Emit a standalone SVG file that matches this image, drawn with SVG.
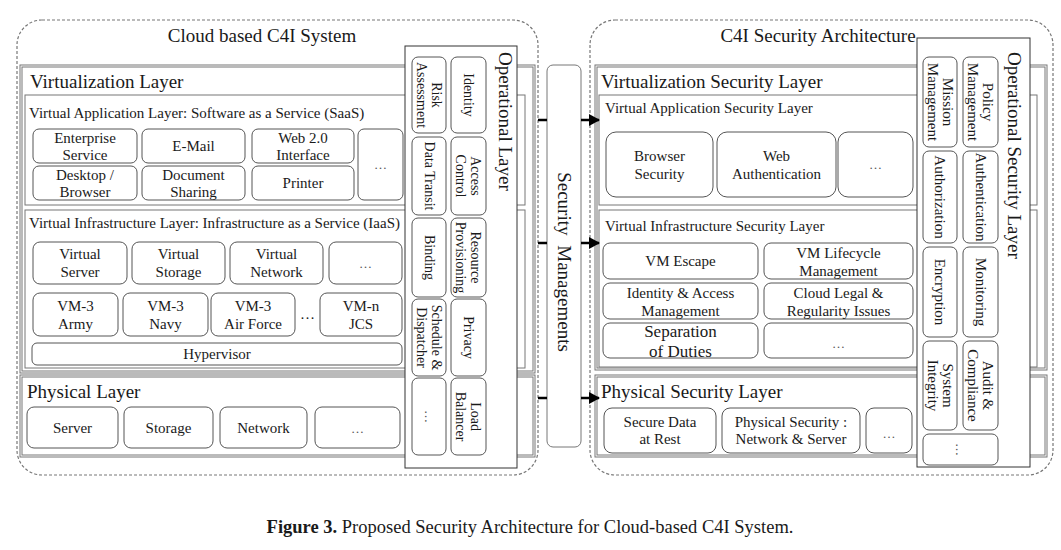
<svg xmlns="http://www.w3.org/2000/svg" width="1061" height="550" viewBox="0 0 1061 550">
<style>
text{font-family:"Liberation Serif","Times New Roman",serif;fill:#1a1a1a}
.t19{font-size:19px}
.t15{font-size:15px}
.t14{font-size:14px}
.t17{font-size:17px}
.c{text-anchor:middle;dominant-baseline:central}
.s{dominant-baseline:central}
.dash{fill:none;stroke:#777;stroke-width:1.2;stroke-dasharray:3 2}
.lay{fill:none;stroke:#777;stroke-width:1}
.box{fill:#fff;stroke:#555;stroke-width:1}
.op{fill:#fff;stroke:#333;stroke-width:1}
.sm{fill:#fff;stroke:#777;stroke-width:1}
.dots{font-size:13px;fill:#555}
.arr{stroke:#000;stroke-width:2.5;fill:none}
</style>
<defs>
<marker id="ah" markerWidth="11" markerHeight="12" refX="10" refY="6" orient="auto" markerUnits="userSpaceOnUse">
<path d="M0,0 L11,6 L0,12 z" fill="#000"/>
</marker>
</defs>
<rect width="1061" height="550" fill="#fff"/>

<g id="cloud-c4i-system">
<rect class="dash" x="17" y="20" width="521" height="455" rx="25"/>
<text class="t19" x="262" y="42" text-anchor="middle">Cloud based C4I System</text>
</g>

<g id="virtualization-layer">
<rect class="lay" x="20" y="65" width="515" height="308"/>
<rect class="lay" x="22" y="67" width="511" height="304"/>
<text class="t19" x="30" y="88">Virtualization Layer</text>
</g>

<g id="saas-layer">
<rect class="lay" x="25" y="95" width="500" height="110"/>
<text class="t15" x="29" y="118">Virtual Application Layer: Software as a Service (SaaS)</text>
<rect class="box" x="33" y="129" width="104" height="34" rx="6"/>
<text class="t15 c" x="85" y="137.5">Enterprise</text><text class="t15 c" x="85" y="154.5">Service</text>
<rect class="box" x="142" y="129" width="103" height="34" rx="6"/>
<text class="t15 c" x="193.5" y="146">E-Mail</text>
<rect class="box" x="252" y="129" width="102" height="34" rx="6"/>
<text class="t15 c" x="303" y="137.5">Web 2.0</text><text class="t15 c" x="303" y="154.5">Interface</text>
<rect class="box" x="358" y="129" width="45" height="71" rx="6"/>
<text class="dots c" x="380.5" y="164.5">…</text>
<rect class="box" x="33" y="166" width="104" height="34" rx="6"/>
<text class="t15 c" x="85" y="174.5">Desktop /</text><text class="t15 c" x="85" y="191.5">Browser</text>
<rect class="box" x="142" y="166" width="103" height="34" rx="6"/>
<text class="t15 c" x="193.5" y="174.5">Document</text><text class="t15 c" x="193.5" y="191.5">Sharing</text>
<rect class="box" x="252" y="166" width="102" height="34" rx="6"/>
<text class="t15 c" x="303" y="183">Printer</text>
</g>

<g id="iaas-layer">
<rect class="lay" x="25" y="210" width="500" height="158"/>
<text class="t15" x="29" y="228">Virtual Infrastructure Layer: Infrastructure as a Service (IaaS)</text>
<rect class="box" x="33" y="242" width="94" height="42" rx="7"/>
<text class="t15 c" x="80" y="254">Virtual</text><text class="t15 c" x="80" y="272">Server</text>
<rect class="box" x="132" y="242" width="93" height="42" rx="7"/>
<text class="t15 c" x="178.5" y="254">Virtual</text><text class="t15 c" x="178.5" y="272">Storage</text>
<rect class="box" x="230" y="242" width="93" height="42" rx="7"/>
<text class="t15 c" x="276.5" y="254">Virtual</text><text class="t15 c" x="276.5" y="272">Network</text>
<rect class="box" x="329" y="242" width="73" height="42" rx="7"/>
<text class="dots c" x="365.5" y="263">…</text>
<rect class="box" x="33" y="293" width="85" height="43" rx="7"/>
<text class="t15 c" x="75.5" y="305.5">VM-3</text><text class="t15 c" x="75.5" y="323.5">Army</text>
<rect class="box" x="123" y="293" width="85" height="43" rx="7"/>
<text class="t15 c" x="165.5" y="305.5">VM-3</text><text class="t15 c" x="165.5" y="323.5">Navy</text>
<rect class="box" x="211" y="293" width="84" height="43" rx="7"/>
<text class="t15 c" x="253" y="305.5">VM-3</text><text class="t15 c" x="253" y="323.5">Air Force</text>
<text class="t15 c" x="307.5" y="314">…</text>
<rect class="box" x="320" y="293" width="82" height="43" rx="7"/>
<text class="t15 c" x="361" y="305.5">VM-n</text><text class="t15 c" x="361" y="323.5">JCS</text>
<rect class="box" x="32" y="343" width="370" height="22" rx="5"/>
<text class="t15 c" x="217" y="354">Hypervisor</text>
</g>

<g id="physical-layer">
<rect class="lay" x="20" y="375" width="515" height="82"/>
<rect class="lay" x="22" y="377" width="511" height="78"/>
<text class="t19" x="27" y="398">Physical Layer</text>
<rect class="box" x="27" y="407" width="91" height="41" rx="7"/>
<text class="t15 c" x="72.5" y="428">Server</text>
<rect class="box" x="124" y="407" width="89" height="41" rx="7"/>
<text class="t15 c" x="168.5" y="428">Storage</text>
<rect class="box" x="220" y="407" width="87" height="41" rx="7"/>
<text class="t15 c" x="263.5" y="428">Network</text>
<rect class="box" x="315" y="407" width="85" height="41" rx="7"/>
<text class="dots c" x="357.5" y="428">…</text>
</g>

<g id="operational-layer">
<rect class="op" x="405" y="46" width="112" height="422"/>
<text class="t19 s" transform="translate(505,52) rotate(90)">Operational Layer</text>
<rect class="box" x="412" y="57" width="34" height="76" rx="6"/>
<text class="t14 c" transform="translate(429,95) rotate(90)"><tspan x="0" y="-7.5">Risk</tspan><tspan x="0" y="7.5">Assessment</tspan></text>
<rect class="box" x="412" y="137" width="34" height="78" rx="6"/>
<text class="t14 c" transform="translate(429,176) rotate(90)">Data Transit</text>
<rect class="box" x="412" y="218" width="34" height="79" rx="6"/>
<text class="t14 c" transform="translate(429,257.5) rotate(90)">Binding</text>
<rect class="box" x="412" y="299" width="34" height="77" rx="6"/>
<text class="t14 c" transform="translate(429,337.5) rotate(90)"><tspan x="0" y="-7.5">Schedule &amp;</tspan><tspan x="0" y="7.5">Dispatcher</tspan></text>
<rect class="box" x="412" y="378" width="34" height="77" rx="6"/>
<text class="dots c" transform="translate(429,416.5) rotate(90)">…</text>
<rect class="box" x="451" y="57" width="35" height="76" rx="6"/>
<text class="t14 c" transform="translate(468.5,95) rotate(90)">Identity</text>
<rect class="box" x="451" y="137" width="35" height="78" rx="6"/>
<text class="t14 c" transform="translate(468.5,176) rotate(90)"><tspan x="0" y="-7.5">Access</tspan><tspan x="0" y="7.5">Control</tspan></text>
<rect class="box" x="451" y="218" width="35" height="79" rx="6"/>
<text class="t14 c" transform="translate(468.5,257.5) rotate(90)"><tspan x="0" y="-7.5">Resource</tspan><tspan x="0" y="7.5">Provisioning</tspan></text>
<rect class="box" x="451" y="299" width="35" height="77" rx="6"/>
<text class="t14 c" transform="translate(468.5,337.5) rotate(90)">Privacy</text>
<rect class="box" x="451" y="378" width="35" height="77" rx="6"/>
<text class="t14 c" transform="translate(468.5,416.5) rotate(90)"><tspan x="0" y="-7.5">Load</tspan><tspan x="0" y="7.5">Balancer</tspan></text>
</g>

<g id="security-managements">
<rect class="sm" x="547" y="65" width="34" height="382" rx="6"/>
<text class="t19 c" transform="translate(564,262) rotate(90)" word-spacing="5">Security Managements</text>
</g>

<g id="c4i-security-architecture">
<rect class="dash" x="590" y="20" width="463" height="455" rx="25"/>
<text class="t19" x="818" y="42" text-anchor="middle">C4I Security Architecture</text>
</g>

<g id="virtualization-security-layer">
<rect class="lay" x="595" y="65" width="452" height="305"/>
<rect class="lay" x="597" y="67" width="448" height="301"/>
<text class="t19" x="601" y="88">Virtualization Security Layer</text>
</g>

<g id="virtual-application-security-layer">
<rect class="lay" x="599" y="95" width="438" height="110"/>
<text class="t15" x="605" y="113">Virtual Application Security Layer</text>
<rect class="box" x="606" y="132" width="107" height="65" rx="10"/>
<text class="t15 c" x="659.5" y="156">Browser</text><text class="t15 c" x="659.5" y="174">Security</text>
<rect class="box" x="717" y="132" width="119" height="65" rx="10"/>
<text class="t15 c" x="776.5" y="156">Web</text><text class="t15 c" x="776.5" y="174">Authentication</text>
<rect class="box" x="838" y="132" width="75" height="65" rx="10"/>
<text class="dots c" x="875.5" y="164.5">…</text>
</g>

<g id="virtual-infrastructure-security-layer">
<rect class="lay" x="599" y="210" width="438" height="157"/>
<text class="t15" x="605" y="231">Virtual Infrastructure Security Layer</text>
<rect class="box" x="603" y="243" width="155" height="36" rx="7"/>
<text class="t15 c" x="680.5" y="261">VM Escape</text>
<rect class="box" x="764" y="243" width="149" height="36" rx="7"/>
<text class="t15 c" x="838.5" y="252.5">VM Lifecycle</text><text class="t15 c" x="838.5" y="270.5">Management</text>
<rect class="box" x="603" y="283" width="155" height="36" rx="7"/>
<text class="t15 c" x="680.5" y="292.5">Identity &amp; Access</text><text class="t15 c" x="680.5" y="310.5">Management</text>
<rect class="box" x="764" y="283" width="149" height="36" rx="7"/>
<text class="t15 c" x="838.5" y="292.5">Cloud Legal &amp;</text><text class="t15 c" x="838.5" y="310.5">Regularity Issues</text>
<rect class="box" x="603" y="323" width="155" height="35" rx="7"/>
<text class="t17 c" x="680.5" y="331">Separation</text><text class="t17 c" x="680.5" y="351">of Duties</text>
<rect class="box" x="764" y="323" width="149" height="35" rx="7"/>
<text class="dots c" x="838.5" y="343">…</text>
</g>

<g id="physical-security-layer">
<rect class="lay" x="595" y="375" width="452" height="82"/>
<rect class="lay" x="597" y="377" width="448" height="78"/>
<text class="t19" x="601" y="398">Physical Security Layer</text>
<rect class="box" x="604" y="408" width="112" height="45" rx="8"/>
<text class="t15 c" x="660" y="422">Secure Data</text><text class="t15 c" x="660" y="439">at Rest</text>
<rect class="box" x="722" y="408" width="138" height="45" rx="8"/>
<text class="t15 c" x="791" y="422">Physical Security :</text><text class="t15 c" x="791" y="439">Network &amp; Server</text>
<rect class="box" x="866" y="408" width="46" height="45" rx="8"/>
<text class="dots c" x="889" y="433">…</text>
</g>

<g id="operational-security-layer">
<rect class="op" x="917" y="38" width="113" height="429"/>
<text class="t19 s" transform="translate(1014,52) rotate(90)">Operational Security Layer</text>
<rect class="box" x="923" y="57" width="34" height="90" rx="6"/>
<text class="t15 c" transform="translate(940,102) rotate(90)"><tspan x="0" y="-7.5">Mission</tspan><tspan x="0" y="7.5">Management</tspan></text>
<rect class="box" x="923" y="151" width="34" height="92" rx="6"/>
<text class="t15 c" transform="translate(940,197) rotate(90)">Authorization</text>
<rect class="box" x="923" y="247" width="34" height="90" rx="6"/>
<text class="t15 c" transform="translate(940,292) rotate(90)">Encryption</text>
<rect class="box" x="923" y="341" width="34" height="89" rx="6"/>
<text class="t15 c" transform="translate(940,385.5) rotate(90)"><tspan x="0" y="-7.5">System</tspan><tspan x="0" y="7.5">Integrity</tspan></text>
<rect class="box" x="963" y="57" width="35" height="90" rx="6"/>
<text class="t15 c" transform="translate(980.5,102) rotate(90)"><tspan x="0" y="-7.5">Policy</tspan><tspan x="0" y="7.5">Management</tspan></text>
<rect class="box" x="963" y="151" width="35" height="92" rx="6"/>
<text class="t15 c" transform="translate(980.5,197) rotate(90)">Authentication</text>
<rect class="box" x="963" y="247" width="35" height="90" rx="6"/>
<text class="t15 c" transform="translate(980.5,292) rotate(90)">Monitoring</text>
<rect class="box" x="963" y="341" width="35" height="89" rx="6"/>
<text class="t15 c" transform="translate(980.5,385.5) rotate(90)"><tspan x="0" y="-7.5">Audit &amp;</tspan><tspan x="0" y="7.5">Compliance</tspan></text>
<rect class="box" x="923" y="434" width="75" height="31" rx="6"/>
<text class="dots c" transform="translate(960.5,449.5) rotate(90)">…</text>
</g>

<g id="connectors">
<line class="arr" x1="538" y1="120" x2="547" y2="120"/>
<line class="arr" x1="538" y1="243" x2="547" y2="243"/>
<line class="arr" x1="538" y1="398" x2="547" y2="398"/>
<line class="arr" x1="581" y1="120" x2="599" y2="120" marker-end="url(#ah)"/>
<line class="arr" x1="581" y1="243" x2="599" y2="243" marker-end="url(#ah)"/>
<line class="arr" x1="581" y1="398" x2="599" y2="398" marker-end="url(#ah)"/>
</g>

<g id="caption">
<text x="530" y="533" text-anchor="middle" style="font-size:18.5px"><tspan font-weight="bold">Figure 3.</tspan> Proposed Security Architecture for Cloud-based C4I System.</text>
</g>
</svg>
